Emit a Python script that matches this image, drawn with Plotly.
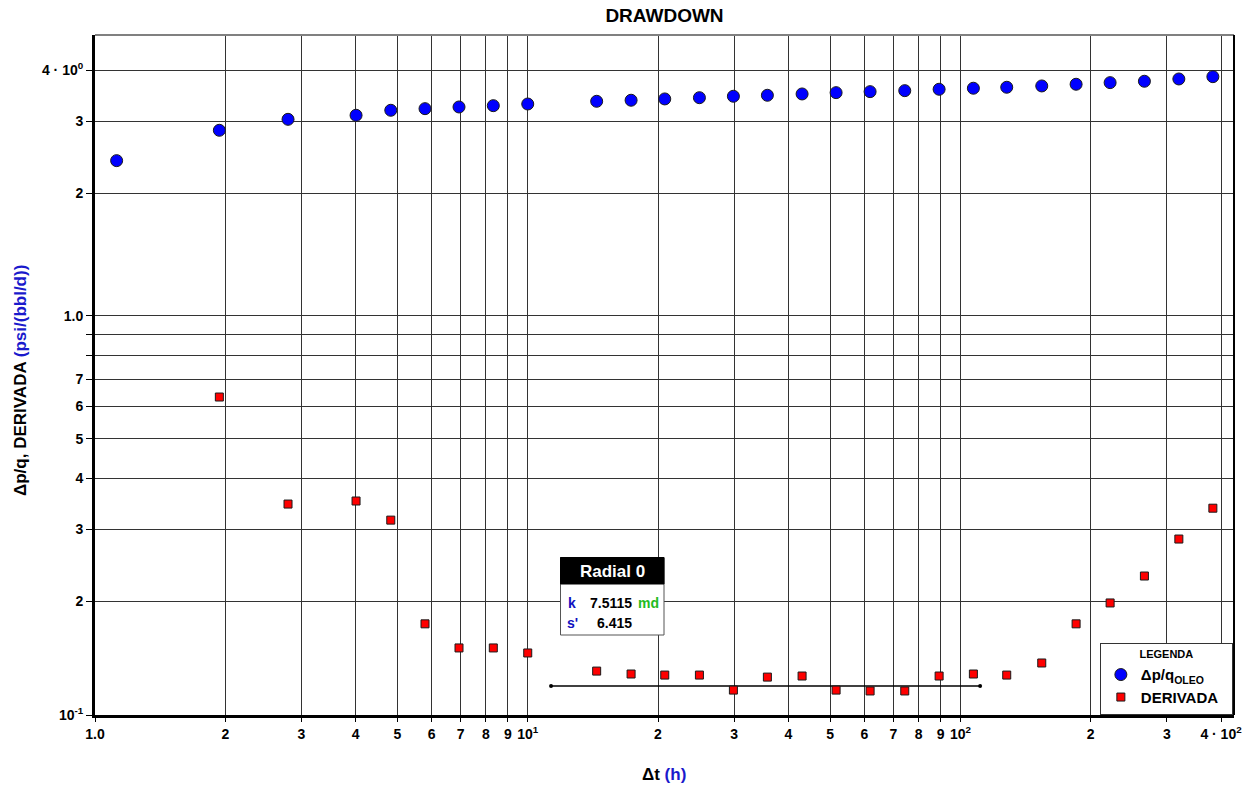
import math
import plotly.graph_objects as go

# ---------------- data ----------------
dt_h = [1.122, 1.938, 2.793, 4.011, 4.825, 5.789, 6.937, 8.326, 10.0, 14.43,
        17.33, 20.73, 24.93, 29.87, 35.79, 43.05, 51.59, 61.82, 74.34, 89.25,
        107.1, 127.9, 154.1, 185.0, 221.7, 266.1, 319.6, 383.0]
dp_q = [2.403, 2.852, 3.034, 3.104, 3.193, 3.222, 3.253, 3.277, 3.308, 3.359,
        3.379, 3.404, 3.428, 3.456, 3.475, 3.501, 3.527, 3.547, 3.567, 3.595,
        3.616, 3.636, 3.663, 3.698, 3.732, 3.761, 3.810, 3.860]

dt_deriv = [1.938, 2.793, 4.011, 4.825, 5.789, 6.937, 8.326, 10.0, 14.43,
            17.33, 20.73, 24.93, 29.87, 35.79, 43.05, 51.59, 61.82, 74.34, 89.25,
            107.1, 127.9, 154.1, 185.0, 221.7, 266.1, 319.6, 383.0]
derivada = [0.633, 0.346, 0.352, 0.316, 0.176, 0.1536, 0.1536, 0.1493, 0.1348,
            0.1326, 0.1318, 0.1318, 0.1211, 0.1303, 0.1311, 0.1211, 0.1205, 0.1205,
            0.1311, 0.1326, 0.1318, 0.1411, 0.176, 0.198, 0.2305, 0.284, 0.338]

radial_x = [11.32, 111.0]
radial_y = [0.1239, 0.1239]
radial_k = "7.5115"
radial_s = "6.415"

x_tick_vals = [1, 2, 3, 4, 5, 6, 7, 8, 9, 10, 20, 30, 40, 50, 60, 70, 80, 90,
               100, 200, 300, 400]
x_tick_text = ["1.0", "2", "3", "4", "5", "6", "7", "8", "9", "10<sup>1</sup>",
               "2", "3", "4", "5", "6", "7", "8", "9", "10<sup>2</sup>",
               "2", "3", "4 · 10<sup>2</sup>"]
y_axis_bottom = 0.10521   # the bottom of the frame, labelled 10^-1 in the reference
y_axis_top = 4.883
y_tick_vals = [y_axis_bottom, 0.2, 0.3, 0.4, 0.5, 0.6, 0.7, 0.8, 0.9, 1.0, 2, 3, 4]
y_tick_text = ["10<sup>-1</sup>", "2", "3", "4", "5", "6", "7", "", "", "1.0",
               "2", "3", "4 · 10<sup>0</sup>"]
x_min, x_max = 1.0, 428.6

# ---------------- figure ----------------
FONT = "Liberation Sans, Arial, Helvetica, sans-serif"
W, H = 1255, 789
L, R, T, B = 95, 21, 35, 74
PW, PH = W - L - R, H - T - B


def px(x):
    return (x - L) / PW


def py(y):
    return (H - B - y) / PH


fig = go.Figure()

fig.add_trace(go.Scatter(
    x=radial_x, y=radial_y, mode="lines+markers",
    line=dict(color="black", width=1.5),
    marker=dict(size=4, color="black"),
    showlegend=False, hoverinfo="skip"))

fig.add_trace(go.Scatter(
    x=dt_h, y=dp_q, mode="markers", name="Δp/q<sub>OLEO</sub>",
    marker=dict(symbol="circle", size=12, color="#0000ff",
                line=dict(color="#1a1a1a", width=1))))

fig.add_trace(go.Scatter(
    x=dt_deriv, y=derivada, mode="markers", name="DERIVADA&nbsp;&nbsp;",
    marker=dict(symbol="square", size=8, color="#ff0000",
                line=dict(color="#1a1a1a", width=1))))

grid = "#333333"
fig.update_xaxes(
    type="log", range=[math.log10(x_min), math.log10(x_max)],
    tickvals=x_tick_vals, ticktext=x_tick_text,
    tickfont=dict(family=FONT, size=14, color="black", weight="bold"),
    showgrid=True, gridcolor=grid, gridwidth=1,
    showline=True, linecolor="black", linewidth=3,
    ticks="outside", ticklen=4, tickcolor="black",
    zeroline=False)
fig.update_yaxes(
    type="log", range=[math.log10(y_axis_bottom), math.log10(y_axis_top)],
    tickvals=y_tick_vals, ticktext=y_tick_text,
    tickfont=dict(family=FONT, size=14, color="black", weight="bold"),
    showgrid=True, gridcolor=grid, gridwidth=1,
    showline=True, linecolor="black", linewidth=3,
    ticks="outside", ticklen=6, tickcolor="black",
    zeroline=False)

shapes = [
    # top and right frame
    dict(type="line", xref="paper", yref="paper", x0=0, x1=1, y0=1, y1=1,
         line=dict(color="#808080", width=2)),
    dict(type="line", xref="paper", yref="paper", x0=1, x1=1, y0=0, y1=1,
         line=dict(color="black", width=2)),
    # Radial box
    dict(type="rect", xref="paper", yref="paper",
         x0=px(560.5), x1=px(664), y0=py(635), y1=py(557.5),
         fillcolor="white", line=dict(color="#555555", width=1), layer="above"),
    dict(type="rect", xref="paper", yref="paper",
         x0=px(560.5), x1=px(664), y0=py(584), y1=py(557.5),
         fillcolor="black", line=dict(color="black", width=1), layer="above"),
]


def ann(text, x, y, size, color, xanchor="center", angle=0):
    return dict(text=text, xref="paper", yref="paper", x=px(x), y=py(y),
                xanchor=xanchor, yanchor="middle", textangle=angle,
                showarrow=False, font=dict(family=FONT, size=size, color=color))


annotations = [
    ann("<b>Radial 0</b>", 612.5, 571.5, 17, "white"),
    ann("<b>k</b>", 572, 603, 14, "#1010c0"),
    ann("<b>" + radial_k + "</b>", 634, 603, 14, "black", "right"),
    ann("<b>md</b>", 636, 603, 14, "#22bb22", "left"),
    ann("<b>s'</b>", 572, 623, 14, "#1010c0"),
    ann("<b>" + radial_s + "</b>", 634, 623, 14, "black", "right"),
    # axis titles
    ann("<b>Δp/q, DERIVADA <span style='color:#1a1acc'>(psi/(bbl/d))</span></b>",
        20, 381, 17, "black", "center", -90),
    ann("<b>Δt <span style='color:#1a1acc'>(h)</span></b>", 664, 775, 17, "black"),
]

fig.update_layout(
    width=W, height=H,
    margin=dict(l=L, r=R, t=T, b=B),
    paper_bgcolor="white", plot_bgcolor="white",
    font=dict(family=FONT, color="black"),
    title=dict(text="<b>DRAWDOWN</b>", x=0.5, xref="paper", xanchor="center",
               y=1 - 15 / H, yanchor="middle",
               font=dict(family=FONT, size=19, color="black")),
    shapes=shapes, annotations=annotations,
    legend=dict(x=0.999, y=0, xanchor="right", yanchor="bottom",
                bgcolor="white", bordercolor="#333333", borderwidth=1,
                title=dict(text="<b>LEGENDA</b>", side="top center",
                           font=dict(family=FONT, size=11, color="black")),
                font=dict(family=FONT, size=15, color="black", weight="bold"),
                itemwidth=30, tracegroupgap=0),
    showlegend=True,
)

fig.write_html("out.html", config={"displayModeBar": False},
               post_script="document.body.style.margin='0px';")
